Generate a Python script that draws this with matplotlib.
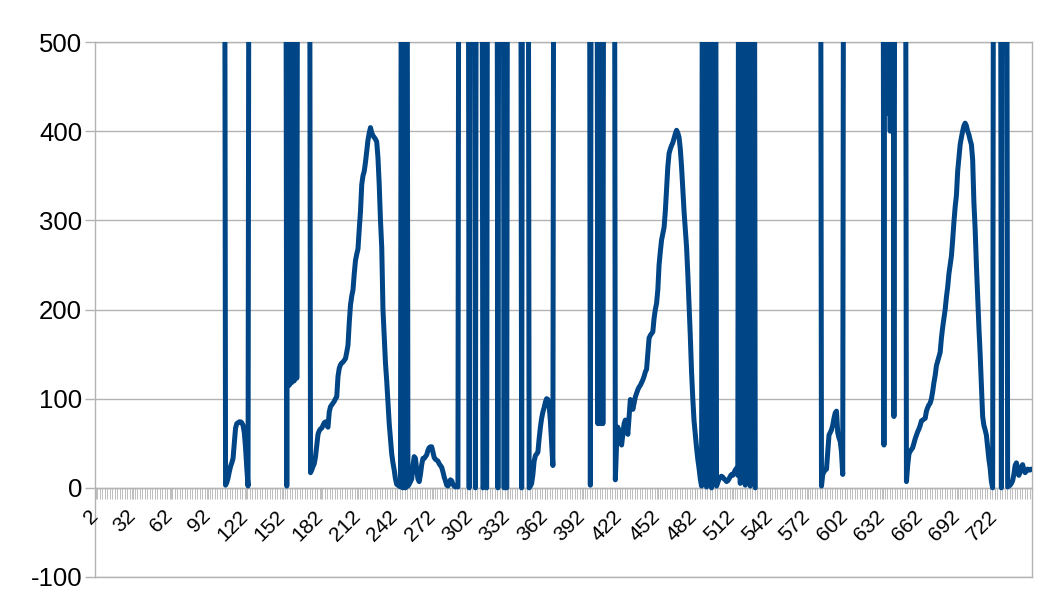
import matplotlib
matplotlib.use("Agg")
import matplotlib.pyplot as plt
import matplotlib.transforms as mtransforms
import numpy as np

OFF = 1000   # readings beyond the top of the value axis (clipped in the chart)
NA = None    # empty cells (gaps in the line)

categories = list(range(2, 752))
tick_labels = [str(c) for c in categories[::30]]

values = (
    [NA] * 103
    + [OFF, 3, 6, 11, 18, 24, 28, 33, 50, 67, 72, 73, 74, 74, 73, 70, 62, 45, 22, 2, OFF]
    + [NA] * 28
    + [OFF, 2, OFF, 115, OFF, 118, OFF, 120, OFF, 123, OFF, OFF]
    + [NA] * 7
    + [OFF,
       17, 20, 24, 27, 35, 48, 60, 64, 66, 67,
       70, 73, 74, 70, 68, 85, 91, 93, 95, 97,
       100, 102, 125, 134, 138, 140, 141, 143, 145, 152,
       160, 185, 205, 215, 222, 240, 255, 262, 268, 290,
       310, 340, 350, 355, 365, 378, 390, 398, 404, 398,
       395, 393, 391, 388, 370, 340, 300, 270, 200, 170,
       140, 120, 95, 72, 55, 38, 28, 20, 10, 4]
    + [3, 2, 1, OFF, 0, OFF, 0, OFF, 2,
       4, 7, 10, 25, 35, 33, 20, 10, 7, 15,
       26, 33, 33, 35, 37, 42, 45, 46, 46, 40,
       34, 32, 31, 30, 27, 25, 23, 18, 12, 8,
       3, 2, 5, 9, 8, 4, 2, 1, 2, 1, OFF]
    + [NA] * 6
    + [OFF, 0, OFF] + [NA] * 2
    + [OFF, 0, OFF] + [NA] * 3
    + [OFF, 0, 3, 2, 0, OFF] + [NA] * 6
    + [OFF, 0, OFF] + [NA] * 2
    + [OFF, 0, OFF, 0, OFF] + [NA] * 9
    + [OFF, 0, OFF] + [NA] * 3
    + [OFF, 0, 2, 5, 15, 30, 36, 38, 40, 55, 68, 78, 85, 90, 96, 100, 99, 92, 75, 50, 25, OFF]
    + [NA] * 27
    + [OFF, 3, OFF] + [NA] * 3
    + [OFF, 72, OFF, 72, OFF, 72, OFF] + [NA] * 7
    + [OFF, 9, 50, 68, 60, 52, 48, 60, 72, 76, 68,
       60, 80, 99, 95, 88, 95, 102, 106, 110, 113,
       115, 118, 121, 125, 130, 133, 150, 168, 171, 173,
       175, 190, 200, 207, 222, 250, 265, 278, 285, 292,
       310, 334, 360, 375, 380, 384, 387, 392, 397, 401,
       398, 393, 380, 360, 334, 310, 290, 270, 240, 205,
       170, 130, 100, 75, 60, 45, 32, 22, 10, 2]
    + [OFF, 4, OFF, 1, OFF, 6, OFF, 0, OFF, 5, OFF, 2]
    + [6, 10, 12, 13, 12, 10, 9, 7, 8, 10, 13, 15, 14, 17, 20, 22, 14]
    + [OFF, 5, OFF, 8, OFF, 3, OFF, 10, OFF, 2, OFF, 6, OFF, 0]
    + [NA] * 51
    + [OFF, 2, 15, 18, 20, 21, 40, 59, 62, 65, 70, 78, 84, 86, 62, 56, 52, 40, 15, OFF]
    + [NA] * 30
    + [OFF, 48, OFF, OFF, 420, OFF, 400, OFF, OFF, 80, OFF]
    + [NA] * 7
    + [OFF, 7,
       25, 38, 41, 43, 45, 50, 55, 59, 63, 66,
       70, 75, 76, 77, 78, 86, 90, 93, 95, 100,
       108, 118, 126, 137, 142, 147, 152, 168, 180, 190,
       200, 214, 225, 240, 250, 260, 278, 298, 315, 328,
       355, 370, 385, 393, 400, 406, 409, 406, 400, 396,
       390, 385, 368, 320, 290, 250, 215, 180, 150, 115,
       80, 70, 65, 59, 45, 32, 22, 7, 0]
    + [OFF] + [NA] * 4 + [OFF, 0, OFF] + [NA] * 2
    + [OFF, 1, 2, 3, 5, 8, 15, 25, 28, 18, 14, 18, 24, 26, 20, 17, 19, 21, 20, 20, 21]
)

assert len(values) == len(categories), len(values)

y = np.array([np.nan if v is None else v for v in values], dtype=float)
x = np.arange(len(categories))

plt.rcParams["font.family"] = ["Liberation Sans", "DejaVu Sans"]
plt.rcParams["axes.unicode_minus"] = False

fig = plt.figure(figsize=(10.64, 5.99), dpi=100)
ax = fig.add_axes([95 / 1064, 1 - 577 / 599, (1032 - 95) / 1064, (577 - 42) / 599])

grid_c = "#b3b3b3"
ax.plot(x, y, color="#004586", lw=3.6, solid_joinstyle="round",
        solid_capstyle="round", zorder=3)

ax.set_xlim(-0.5, len(categories) - 0.5)
ax.set_ylim(-100, 500)
ax.set_yticks([-100, 0, 100, 200, 300, 400, 500])
ax.yaxis.grid(True, color=grid_c, lw=1.0)
ax.set_axisbelow(True)
ax.axhline(-100, color=grid_c, lw=1.0, clip_on=False, zorder=1)

for s in ["left", "right", "top"]:
    ax.spines[s].set_color(grid_c)
    ax.spines[s].set_linewidth(1.0)
ax.spines["bottom"].set_position(("data", 0))
ax.spines["bottom"].set_color(grid_c)
ax.spines["bottom"].set_linewidth(1.0)

ax.tick_params(axis="y", direction="out", length=7.2, color=grid_c, width=1.0,
               labelsize=18.5, pad=2)
label_pos = x[::30]
ax.set_xticks(label_pos)
ax.set_xticks(np.arange(-0.5, len(categories), 2), minor=True)
ax.tick_params(axis="x", which="both", direction="out", length=7.6, color=grid_c,
               width=0.6, labelbottom=False)

# category labels, rotated 45 degrees below the axis line at 0
lab_tr = ax.transData + mtransforms.ScaledTranslation(-0.075, -0.187, fig.dpi_scale_trans)
for pos, txt in zip(label_pos, tick_labels):
    ax.text(pos, 0, txt, transform=lab_tr, fontsize=15, rotation=45,
            ha="right", va="top", rotation_mode="anchor", clip_on=False)

fig.savefig("out.png", dpi=100)
